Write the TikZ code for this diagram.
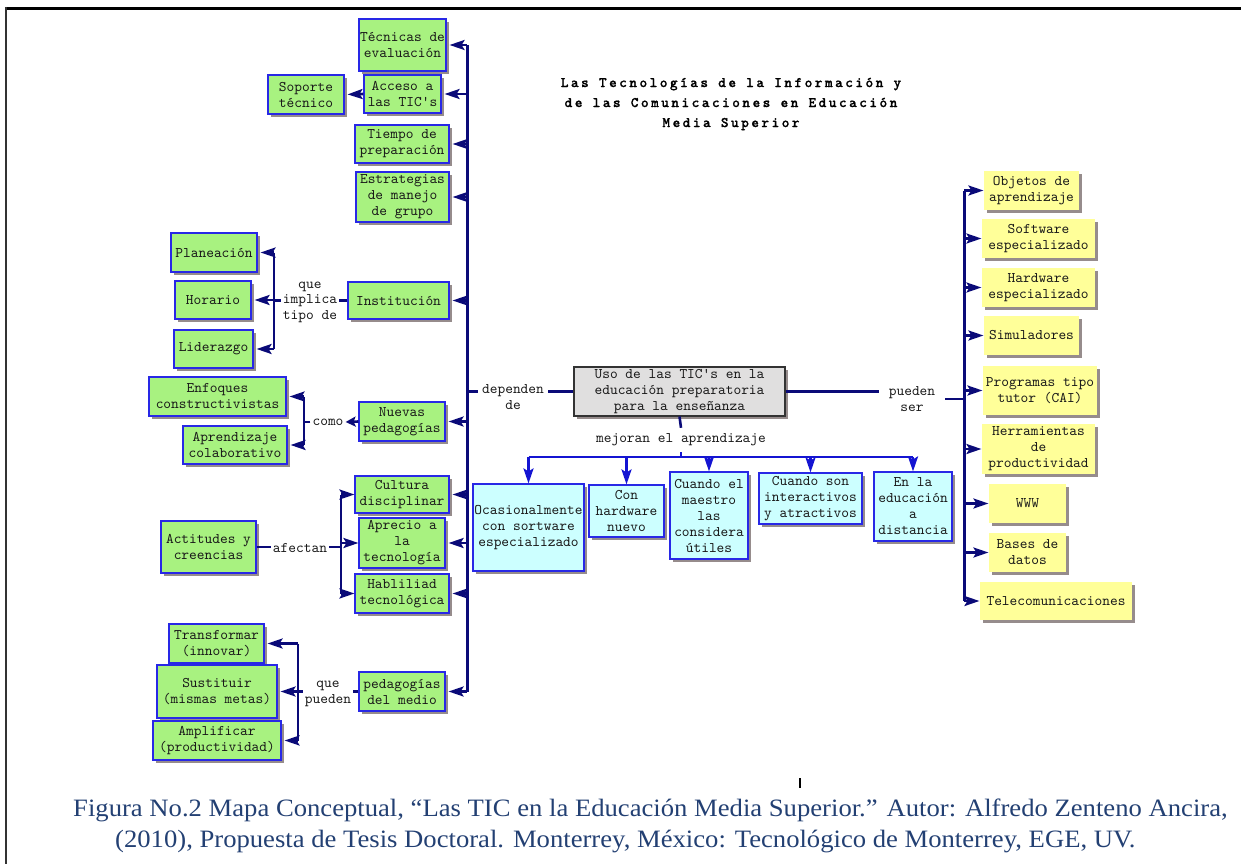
\documentclass[tikz,border=0pt]{standalone}
\usepackage{fontspec}
\setmainfont{Liberation Serif}
\newfontfamily\boxfont{lmmono10-regular.otf}
\newfontfamily\titlefont[LetterSpace=16.5,FakeBold=0.8]{lmmonolt10-bold.otf}
\usetikzlibrary{arrows.meta,shadows}
\definecolor{gfill}{RGB}{168,242,128}
\definecolor{cfill}{RGB}{204,255,255}
\definecolor{yfill}{RGB}{255,255,153}
\definecolor{ufill}{RGB}{224,223,223}
\definecolor{bborder}{RGB}{40,40,230}
\definecolor{navy}{RGB}{10,10,120}
\definecolor{lblue}{RGB}{20,20,210}
\definecolor{shad}{RGB}{150,140,140}
\definecolor{txt}{RGB}{25,25,25}
\definecolor{capblue}{RGB}{35,64,115}
\tikzset{
  bx/.style={draw=bborder, line width=1.1pt, inner sep=0pt, align=center,
    font=\boxfont\fontsize{14.7}{16}\selectfont, text=txt,
    drop shadow={shadow xshift=3pt, shadow yshift=-3pt, fill=shad, opacity=1}},
  sz/.style n args={2}{minimum width=#1pt, minimum height=#2pt},
  gbox/.style={bx, fill=gfill},
  cbox/.style={bx, fill=cfill},
  ybox/.style={bx, fill=yfill, draw=none},
  ubox/.style={bx, fill=ufill, draw=black!80},
  lbl/.style={inner sep=2pt, align=center, text=txt,
    font=\boxfont\fontsize{14.7}{15.5}\selectfont},
  ln/.style={draw=navy, line width=2.6pt},
  bus/.style={draw=navy, line width=3pt},
  ar/.style={ln, -{Stealth[length=15pt,width=10pt,inset=3pt]}},
  arE/.style={ar, shorten >=3pt},
  arS/.style={ln, -{Stealth[length=10pt,width=10pt,inset=2pt]}},
  dln/.style={draw=lblue, line width=2.6pt},
  dar/.style={dln, -{Stealth[length=15pt,width=10pt,inset=3pt]}},
  captext/.style={anchor=base west, inner sep=0pt, text=capblue, font=\fontsize{25}{30}\selectfont},
}
\begin{document}
\begin{tikzpicture}[x=1pt,y=-1pt]
\useasboundingbox (0,0) rectangle (1241,864);
% frame
\draw[line width=3pt] (6,8.5) -- (1241,8.5);
\draw[line width=2pt, black!80] (6,7) -- (6,864);
% title
\node[align=center, font=\titlefont\fontsize{14.7}{20}\selectfont] (title) at (731,104)
  {Las Tecnologías de la Información y\\de las Comunicaciones en Educación\\Media Superior};
% green boxes
\node[gbox, sz={87}{52}] (tec) at (402.5,45) {Técnicas de\\evaluación};
\node[gbox, sz={76}{39}] (sop) at (306,94.5) {Soporte\\técnico};
\node[gbox, sz={77}{38}] (acc) at (402.5,94) {Acceso a\\las TIC\textquotesingle s};
\node[gbox, sz={94}{38}] (tie) at (402,144) {Tiempo de\\preparación};
\node[gbox, sz={93}{50}] (est) at (402.5,197) {Estrategias\\de manejo\\de grupo};
\node[gbox, sz={86}{39}] (pla) at (214,252.5) {Planeación};
\node[gbox, sz={76}{38}] (hor) at (213,300) {Horario};
\node[gbox, sz={79}{38}] (lid) at (213.5,349) {Liderazgo};
\node[gbox, sz={101}{37}] (ins) at (398.5,300.5) {Institución};
\node[gbox, sz={137}{39}] (enf) at (217.5,396.5) {Enfoques\\constructivistas};
\node[gbox, sz={104}{38}] (apr) at (235,445) {Aprendizaje\\colaborativo};
\node[gbox, sz={86}{39}] (nue) at (402,421.5) {Nuevas\\pedagogías};
\node[gbox, sz={94}{37}] (cul) at (402,494.5) {Cultura\\disciplinar};
\node[gbox, sz={86}{50}] (apc) at (402,543) {Aprecio a\\la\\tecnología};
\node[gbox, sz={94}{39}] (hab) at (402,593.5) {Habliliad\\tecnológica};
\node[gbox, sz={95}{52}] (act) at (208.5,547) {Actitudes y\\creencias};
\node[gbox, sz={95}{39}] (tra) at (216.5,643.5) {Transformar\\(innovar)};
\node[gbox, sz={120}{53}] (sus) at (217,691.5) {Sustituir\\(mismas metas)};
\node[gbox, sz={128}{39}] (amp) at (217,740.5) {Amplificar\\(productividad)};
\node[gbox, sz={86}{39}] (ped) at (402,691.5) {pedagogías\\del medio};
% center
\node[ubox, sz={211}{49}] (uso) at (679.5,391.5) {Uso de las TIC\textquotesingle s en la\\educación preparatoria\\para la enseñanza};
\node[cbox, sz={111}{87}] (oca) at (528.5,527.5) {Ocasionalmente\\con sortware\\especializado};
\node[cbox, sz={75}{52}] (con) at (626.5,511) {Con\\hardware\\nuevo};
\node[cbox, sz={78}{87}] (cua) at (709,515.5) {Cuando el\\maestro\\las\\considera\\útiles};
\node[cbox, sz={103}{51}] (int) at (810.5,498.5) {Cuando son\\interactivos\\y atractivos};
\node[cbox, sz={78}{69}] (edu) at (913,506.5) {En la\\educación\\a\\distancia};
% right yellow boxes
\node[ybox, sz={95}{39}] (obj) at (1031.5,190.5) {Objetos de\\aprendizaje};
\node[ybox, sz={113}{39}] (sof) at (1038.5,238.5) {Software\\especializado};
\node[ybox, sz={113}{39}] (har) at (1038.5,287.5) {Hardware\\especializado};
\node[ybox, sz={95}{39}] (sim) at (1031.5,335.5) {Simuladores};
\node[ybox, sz={114}{49}] (pro) at (1040,390.5) {Programas tipo\\tutor (CAI)};
\node[ybox, sz={113}{50}] (her) at (1038.5,449) {Herramientas\\de\\productividad};
\node[ybox, sz={77}{39}] (www) at (1027.5,503.5) {WWW};
\node[ybox, sz={77}{39}] (bas) at (1027.5,552.5) {Bases de\\datos};
\node[ybox, sz={152}{38}] (tel) at (1056,601) {Telecomunicaciones};
% labels
\node[lbl] (qit) at (310,302) {que\\implica\\tipo de};
\node[lbl] (como) at (328,422) {como};
\node[lbl] (afe) at (300,548) {afectan};
\node[lbl] (qp) at (328,694) {que\\pueden};
\node[lbl, inner xsep=4pt] (dep) at (513,397) {dependen\\de};
\node[lbl, inner xsep=10pt] (ps) at (912,399) {pueden\\ser};
\node[lbl, inner sep=0pt, minimum height=24pt] (mej) at (681,440) {mejoran el aprendizaje};
% coordinates
\coordinate (lbus) at (467,0);
\coordinate (rbus) at (964,0);
\coordinate (ib) at (274,0);
\coordinate (cb) at (304,0);
\coordinate (ab) at (341,0);
\coordinate (pb) at (298,0);
\coordinate (hb) at (0,457);
% left bus
\draw[bus] (lbus |- tec.east) -- (lbus |- ped.east);
\foreach \n in {tec,acc,tie,est,ins,nue,cul,apc,hab,ped}
  \draw[arE] (lbus |- \n.east) -- (\n.east);
\draw[arE] (acc.west) -- (sop.east);
% institucion
\draw[ln] (ib |- pla.east) -- (ib |- lid.east);
\foreach \n in {pla,hor,lid} \draw[arE] (ib |- \n.east) -- (\n.east);
\draw[ln] (ins.west) -- (qit.east |- ins.west);
\draw[ln] (qit.west |- ins.west) -- (ib |- ins.west);
% como
\draw[ln] (cb |- enf.east) -- (cb |- apr.east);
\foreach \n in {enf,apr} \draw[arE] (cb |- \n.east) -- (\n.east);
\draw[ln] (como.west) -- (cb |- como.west);
\draw[arS] (nue.west) -- (como.east);
% afectan
\draw[ln] (ab |- cul.west) -- (ab |- hab.west);
\foreach \n in {cul,apc,hab} \draw[ar] (ab |- \n.west) -- (\n.west);
\draw[ln] (act.east) -- (afe.west |- act.east);
\draw[ln] (afe.east |- act.east) -- (ab |- act.east);
% que pueden
\draw[ln] (pb |- tra.east) -- (pb |- amp.east);
\foreach \n in {tra,sus,amp} \draw[arE] (pb |- \n.east) -- (\n.east);
\draw[ln] (ped.west) -- (qp.east |- ped.west);
\draw[ln] (qp.west |- ped.west) -- (pb |- ped.west);
% center links
\draw[ln] (lbus |- uso.west) -- (dep.west |- uso.west);
\draw[ln] (dep.east |- uso.west) -- (uso.west);
\draw[ln] (uso.east) -- (ps.west |- uso.east);
\draw[ln] (ps.east) -- (rbus |- ps.east);
\draw[ln] (uso.south) -- (mej.north);
\draw[dln] (mej.south) -- (mej.south |- hb);
\draw[dln] (oca.north |- hb) -- (edu.north |- hb);
\foreach \n in {oca,con,cua,int,edu} \draw[dar] (\n.north |- hb) -- (\n.north);
% right bus
\draw[bus] (rbus |- obj.west) -- (rbus |- tel.west);
\foreach \n in {obj,sof,har,sim,pro,her,www,bas,tel} \draw[ar] (rbus |- \n.west) -- (\n.west);
% tick
\draw[line width=1.2pt] (800,778) -- (800,788);
% caption
\node[captext] (cap1) at (73,816) {\scalebox{1.066}[1]{Figura No.2 Mapa Conceptual, “Las TIC en la Educación Media Superior.” Autor: Alfredo Zenteno Ancira,}};
\node[captext] (cap2) at (115,847) {\scalebox{1.066}[1]{(2010), Propuesta de Tesis Doctoral. Monterrey, México: Tecnológico de Monterrey, EGE, UV.}};
\end{tikzpicture}
\end{document}
